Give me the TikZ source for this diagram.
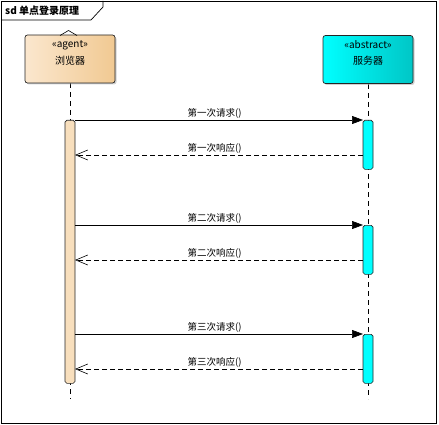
\documentclass[tikz,border=0pt]{standalone}
\usepackage{fontspec}
\setmainfont{Noto Sans CJK SC}
\usetikzlibrary{arrows.meta,shadows,calc}
\definecolor{agentL}{HTML}{FBE7CE}
\definecolor{agentR}{HTML}{F1C992}
\definecolor{agentBar}{HTML}{F8DFBD}
\definecolor{servL}{HTML}{00FFFF}
\definecolor{servR}{HTML}{00C6C6}
\tikzset{
  lifebox/.style={draw=black!85,line width=0.7pt,rounded corners=2.5pt,minimum width=90pt,minimum height=48pt,inner sep=0pt,
    drop shadow={shadow xshift=1.5pt,shadow yshift=-1.5pt,fill=black!30,opacity=0.6}},
  agentbox/.style={lifebox,left color=agentL,right color=agentR},
  servbox/.style={lifebox,left color=servL,right color=servR},
  actbar/.style={draw=black!85,line width=0.6pt,rounded corners=1.8pt,minimum width=10pt,inner sep=0pt,anchor=north},
  lifeline/.style={line width=0.6pt,dash pattern=on 5pt off 4pt},
  req/.style={line width=0.6pt,-{Triangle[length=11pt,width=8pt]}},
  resp/.style={line width=0.6pt,dash pattern=on 5pt off 3pt,-{Straight Barb[length=12pt,width=10pt,line width=0.6pt]}},
  msglbl/.style={font=\fontsize{9.5}{11}\selectfont,inner sep=0pt},
  boxtxt/.style={font=\fontsize{10}{12}\selectfont,inner sep=0pt},
}
\begin{document}
\begin{tikzpicture}[x=1pt,y=-1pt]
\useasboundingbox (0,0) rectangle (439,425);
% frame
\draw[line width=0.7pt] (1,1) rectangle (436.5,423);
\draw[line width=0.7pt] (1,20) -- (91,20) -- (103,7) -- (103,1);
\node[anchor=west,inner sep=0pt,font=\fontsize{10}{12}\selectfont\bfseries] (title) at (5,11) {sd 单点登录原理};
% lifelines
\draw[lifeline] (70,83) -- (70,399);
\draw[lifeline] (368,84) -- (368,399);
% lifeline heads
\node[agentbox] (agent) at (70,59) {};
\node[servbox] (server) at (368,59.5) {};
\draw[line width=0.6pt] (60,35.5) -- (68.5,30.5) -- (77,35.5);
\node[boxtxt] (agentst) at (70,45) {«agent»};
\node[boxtxt] (agentnm) at (70,61) {浏览器};
\node[boxtxt] (servst) at (368,45) {«abstract»};
\node[boxtxt] (servnm) at (368,61) {服务器};
% activation bars
\node[actbar,fill=agentBar,minimum height=263pt] (a0) at (70,120) {};
\node[actbar,fill=servL,minimum height=49pt] (s1) at (368,120) {};
\node[actbar,fill=servL,minimum height=49pt] (s2) at (368,225) {};
\node[actbar,fill=servL,minimum height=49pt] (s3) at (368,334) {};
% message end points
\coordinate (q1a) at (75,120); \coordinate (q1s) at (363,120);
\coordinate (p1a) at (75,155); \coordinate (p1s) at (363,155);
\coordinate (q2a) at (75,225); \coordinate (q2s) at (363,225);
\coordinate (p2a) at (75,260); \coordinate (p2s) at (363,260);
\coordinate (q3a) at (75,334); \coordinate (q3s) at (363,334);
\coordinate (p3a) at (75,369); \coordinate (p3s) at (363,369);
% messages
\draw[req] (q1a) -- (q1s) node[msglbl,pos=0.485,yshift=7pt] (l1) {第一次请求()};
\draw[resp] (p1s) -- (p1a) node[msglbl,pos=0.515,yshift=7pt] (l2) {第一次响应()};
\draw[req] (q2a) -- (q2s) node[msglbl,pos=0.485,yshift=7pt] (l3) {第二次请求()};
\draw[resp] (p2s) -- (p2a) node[msglbl,pos=0.515,yshift=7pt] (l4) {第二次响应()};
\draw[req] (q3a) -- (q3s) node[msglbl,pos=0.485,yshift=7pt] (l5) {第三次请求()};
\draw[resp] (p3s) -- (p3a) node[msglbl,pos=0.515,yshift=7pt] (l6) {第三次响应()};
\end{tikzpicture}
\end{document}
